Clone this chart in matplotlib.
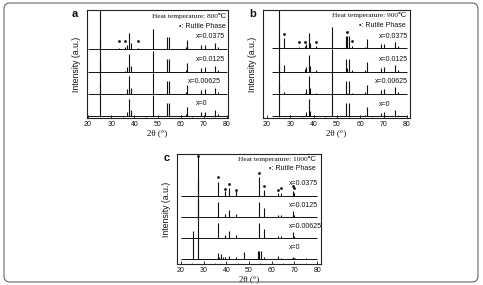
import numpy as np
import matplotlib.pyplot as plt
from matplotlib.patches import FancyBboxPatch
from matplotlib.transforms import IdentityTransform

# anatase reflections (2theta, deg)
anatase_pos = [25.3, 36.9, 37.8, 38.6, 48.0, 53.9, 55.1, 62.1, 62.7, 68.8, 70.3, 75.0, 76.0]
samples = ["x=0", "x=0.00625", "x=0.0125", "x=0.0375"]

# panel a, 800 C  (rows follow samples order)
a_anatase = [[30, 4, 16, 5, 19, 12, 12, 1.5, 8, 3.5, 4, 5.5, 1.5],
             [30, 4, 16, 5, 19, 12, 12, 1.5, 8, 3.5, 4, 5.5, 1.5],
             [30, 4, 16, 5, 19, 12, 12, 1.5, 8, 3.5, 4, 5.5, 1.5],
             [40, 4, 15, 5, 18.5, 11, 11, 1.5, 8, 3.5, 4, 5.5, 1.5]]
a_rutile_pos = [33.4, 36.2, 41.4]
a_rutile = [[0, 0, 0], [0, 0, 0], [0, 0.5, 0], [1, 1.5, 1]]
a_dots_y = [7, 7, 7]

# panel b, 900 C
b_anatase = [[30, 4, 16, 5, 20.5, 12, 12, 1.5, 8.5, 3.5, 4, 6, 1.5],
             [30, 4, 16, 5, 20.5, 12, 12, 1.5, 8.5, 3.5, 4, 6, 1.5],
             [30, 4, 15.5, 5, 20.5, 12, 12, 1.5, 8.5, 3.5, 4, 6, 1.5],
             [40, 4, 14, 5, 19.5, 11.4, 11, 1.5, 8.6, 3.7, 3.7, 5.5, 2]]
b_rutile_pos = [27.5, 33.6, 36.1, 41.2, 54.3, 56.6]
b_rutile = [[0.5, 0, 0, 0, 0, 0],
            [2, 0, 0.5, 0.5, 1, 0.5],
            [6, 0, 2, 1, 3, 1],
            [9.3, 1, 2, 2, 11, 2]]
b_dots_y = [13, 6, 6, 6, 15, 7]

# panel c, 1000 C
c_anatase = [[26, 2, 4.5, 2.5, 7, 7.5, 7.5, 0, 3, 1.5, 1.5, 1.5, 0.5],
             [0, 0, 0, 0, 0, 0, 0, 0, 0, 0, 0, 0, 0],
             [0, 0, 0, 0, 0, 0, 0, 0, 0, 0, 0, 0, 0],
             [0, 0, 0, 0, 0, 0, 0, 0, 0, 0, 0, 0, 0]]
c_rutile_pos = [27.5, 36.3, 39.4, 41.4, 44.2, 54.5, 56.8, 62.9, 64.2, 69.2, 70.0]
c_rutile = [[21, 6, 2, 3, 2, 7.5, 2.5, 1.5, 1.5, 2, 1],
            [36, 13.6, 3, 6.7, 3, 14, 8, 2.5, 2.5, 5.7, 2.5],
            [36, 13.6, 3, 6.7, 3, 14, 8, 2.5, 2.5, 6, 2.5],
            [36, 12.7, 4.5, 6.7, 4.5, 16.7, 5.2, 2.5, 2.5, 4.5, 2.5]]
c_dots_y = [36.5, 17, 5.8, 10.3, 5.2, 20.6, 8.8, 5.5, 6.7, 9.1, 6.7]

SERIF = ['Liberation Serif', 'DejaVu Serif', 'DejaVu Sans']
SANS = ['Liberation Sans', 'DejaVu Sans']
INK = '#111111'

fig = plt.figure(figsize=(4.83, 2.85), dpi=100)
W, H = 483.0, 285.0


def px_axes(l, t, r, b):
    return fig.add_axes([l / W, 1 - b / H, (r - l) / W, (b - t) / H])


def panel(ax, xlim, offsets, base_x0, anat, rpos, rut, dots_y, temp,
          hdr_y, lab_x, lab_y):
    for k in range(4):
        y0 = offsets[k]
        ax.hlines(y0, base_x0, 80, color=INK, lw=0.7)
        ax.vlines(anatase_pos, y0, y0 + np.array(anat[k]), color=INK, lw=0.8)
        ax.vlines(rpos, y0, y0 + np.array(rut[k]), color=INK, lw=0.8)
        ax.text(lab_x[k], y0 + lab_y, samples[k], fontsize=5, family=SANS,
                ha='left', va='center', color=INK)
    ax.plot(rpos, offsets[3] + np.array(dots_y), 'o', color=INK, ms=2, mec='none')
    ax.text(79.6, hdr_y[0], "Heat temperature: %s\u2103" % temp, fontsize=5.3, family=SERIF,
            ha='right', va='center', color=INK)
    ax.text(79.6, hdr_y[1], "\u2022: Rutile Phase", fontsize=5, family=SANS,
            ha='right', va='center', color=INK)
    ax.set_xlim(*xlim)
    ax.set_ylim(0, 100)
    ax.set_yticks([])
    ax.set_xticks(range(20, 81, 10))
    ax.set_xticks(range(25, 80, 10), minor=True)
    ax.tick_params(axis='x', direction='in', length=2, width=0.6, pad=2, labelsize=5,
                   colors=INK)
    ax.tick_params(axis='x', which='minor', direction='in', length=1, width=0.5)
    for lbl in ax.get_xticklabels():
        lbl.set_family(SANS)
    for s in ax.spines.values():
        s.set_linewidth(0.8)
        s.set_color('#222222')
    ax.set_ylabel("Intensity (a.u.)", fontsize=6.3, family=SANS, labelpad=4, color=INK)
    ax.set_xlabel("2\u03b8 (\u00b0)", fontsize=6.5, family=SERIF, labelpad=1, color=INK)


ax_a = px_axes(87, 10, 228, 118)
panel(ax_a, (19.6, 80.4), [2, 22.5, 43, 64], 20, a_anatase, a_rutile_pos, a_rutile,
      a_dots_y, "800", (94.4, 85), [66.6, 63.2, 66.6, 66.6], 11)

ax_b = px_axes(263, 10, 410, 118)
panel(ax_b, (18.3, 81.3), [1.5, 22.5, 43, 64.5], 22, b_anatase, b_rutile_pos, b_rutile,
      b_dots_y, "900", (95.4, 86), [68, 66.3, 68, 68], 11)

ax_c = px_axes(177, 154, 321, 264)
panel(ax_c, (18.3, 81.7), [4.3, 23.4, 42.5, 62.1], 20, c_anatase, c_rutile_pos, c_rutile,
      c_dots_y, "1000", (95.5, 86.4), [67.6, 67.6, 67.6, 67.6], 11)

for letter, x, y in [("a", 75, 14), ("b", 253, 14), ("c", 167, 158)]:
    fig.text(x / W, 1 - y / H, letter, fontsize=8, fontweight='bold', family=SANS,
             ha='center', va='center', color=INK)

border = FancyBboxPatch((4, 3), 474, 279, boxstyle="round,pad=0,rounding_size=6",
                        transform=IdentityTransform(), fill=False, ec='#666666', lw=0.8)
fig.patches.append(border)

fig.savefig("out.png", dpi=100)
